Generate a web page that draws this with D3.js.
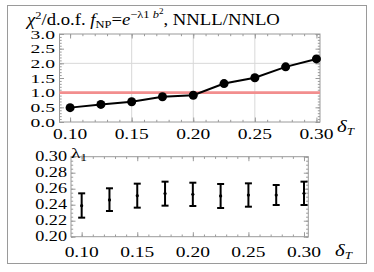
<!DOCTYPE html>
<meta charset="utf-8">
<style>
    body { margin: 0; background: #fff; }
    text { font-family: "Liberation Serif", serif; fill: #000; }
</style>
<svg width="374" height="272"></svg>
<script src="https://cdnjs.cloudflare.com/ajax/libs/d3/7.8.5/d3.min.js"></script>
<script>
    // data
    var deltaT = [0.100, 0.125, 0.150, 0.175, 0.200, 0.225, 0.250, 0.275, 0.300];
    var chi2 = [0.49, 0.60, 0.69, 0.86, 0.91, 1.31, 1.51, 1.88, 2.15];
    var lamCenter = [0.2388, 0.2460, 0.2513, 0.2540, 0.2530, 0.2510, 0.2520, 0.2520, 0.2542];
    var lamLow = [0.2238, 0.2321, 0.2363, 0.2388, 0.2384, 0.2359, 0.2375, 0.2396, 0.2396];
    var lamHigh = [0.2542, 0.2605, 0.2663, 0.2688, 0.2675, 0.2659, 0.2667, 0.2646, 0.2688];
    var xTicks = [0.10, 0.15, 0.20, 0.25, 0.30];
    var chiTicks = [0, 0.5, 1, 1.5, 2, 2.5, 3];
    var lamTicks = [0.20, 0.22, 0.24, 0.26, 0.28, 0.30];
    var refLine = 1.0;

    var svg = d3.select("svg");
    var sx = 1.3; // text in the picture is drawn wide
    var frameCol = "#9a9a9a";

    svg.append("rect").attr("x", 7.5).attr("y", 5.5).attr("width", 359).attr("height", 258)
        .attr("fill", "none").attr("stroke", frameCol);

    function label(g, str, x, y, anchor, size, k) {
        return g.append("text")
            .attr("transform", "translate(" + x + "," + y + ") scale(" + (k || sx) + ",1)")
            .style("font-size", (size || 15) + "px")
            .style("text-anchor", anchor || "middle")
            .text(str);
    }

    // frame with inward ticks on all four sides
    function frame(g, x, y, minorX, minorY) {
        var x0 = x.range()[0], x1 = x.range()[1], y0 = y.range()[0], y1 = y.range()[1];
        var axes = [
            [d3.axisBottom, y0, "x"], [d3.axisTop, y1, "x"],
            [d3.axisLeft, x0, "y"], [d3.axisRight, x1, "y"]
        ];
        axes.forEach(function (a) {
            var sc = a[2] == "x" ? x : y;
            var tv = a[2] == "x" ? xTicks : (y.domain()[1] > 1 ? chiTicks : lamTicks);
            var mv = a[2] == "x" ? minorX : minorY;
            var tr = a[2] == "x" ? "translate(0," + a[1] + ")" : "translate(" + a[1] + ",0)";
            [[mv, -2.2], [tv, -4.5]].forEach(function (s) {
                var ax = g.append("g").attr("transform", tr)
                    .call(a[0](sc).tickValues(s[0]).tickSize(s[1]).tickFormat(""));
                ax.select(".domain").remove();
                ax.selectAll("line").attr("stroke", frameCol);
            });
        });
        g.append("rect").attr("x", x0).attr("y", y1).attr("width", x1 - x0).attr("height", y0 - y1)
            .attr("fill", "none").attr("stroke", frameCol);
    }

    // ---- top panel: chi^2/d.o.f.
    var xA = d3.scaleLinear().domain([0.0914, 0.3029]).range([59.5, 320]);
    var yA = d3.scaleLinear().domain([0, 3]).range([122, 34]);
    var gA = svg.append("g");

    gA.selectAll(".vgrid").data([0.15, 0.20, 0.25]).enter().append("line")
        .attr("x1", function (d) { return xA(d); }).attr("x2", function (d) { return xA(d); })
        .attr("y1", yA(0)).attr("y2", yA(3)).attr("stroke", "#d8d8d8");
    gA.selectAll(".hgrid").data([1, 2]).enter().append("line")
        .attr("x1", xA.range()[0]).attr("x2", xA.range()[1])
        .attr("y1", function (d) { return yA(d); }).attr("y2", function (d) { return yA(d); })
        .attr("stroke", "#d8d8d8");

    frame(gA, xA, yA, d3.range(10, 31).map(function (i) { return i / 100; }),
        d3.range(0, 31).map(function (i) { return i / 10; }));

    gA.append("line").attr("x1", xA.range()[0]).attr("x2", xA.range()[1])
        .attr("y1", yA(refLine)).attr("y2", yA(refLine))
        .attr("stroke", "#f28e8e").attr("stroke-width", 2.6);

    gA.append("path").datum(deltaT)
        .attr("fill", "none").attr("stroke", "#000").attr("stroke-width", 2)
        .attr("d", d3.line().x(function (d) { return xA(d); }).y(function (d, i) { return yA(chi2[i]); }));
    gA.selectAll(".pt").data(deltaT).enter().append("circle")
        .attr("cx", function (d) { return xA(d); }).attr("cy", function (d, i) { return yA(chi2[i]); })
        .attr("r", 4.5).attr("fill", "#000");

    xTicks.forEach(function (t) { label(gA, t.toFixed(2), xA(t), 138.5); });
    chiTicks.forEach(function (t) { label(gA, t.toFixed(1), 55, yA(t) + 4.6, "end", 13.5, 1.45); });

    var dA = label(gA, "δ", 337, 132, "start", 16).style("font-style", "italic");
    dA.append("tspan").attr("dy", 3).style("font-size", "10px").text("T");

    // title
    var title = svg.append("text").attr("transform", "translate(27,24.5)").style("font-size", "16.5px");
    title.append("tspan").style("font-style", "italic").text("χ");
    title.append("tspan").attr("dy", -6).style("font-size", "11px").text("2");
    title.append("tspan").attr("dy", 6).text("/d.o.f. ");
    title.append("tspan").style("font-style", "italic").text("f");
    title.append("tspan").attr("dy", 3).style("font-size", "11px").text("NP");
    title.append("tspan").attr("dy", -3).text("=");
    title.append("tspan").style("font-style", "italic").text("e");
    title.append("tspan").attr("dy", -7).style("font-size", "11px").text("−λ1 ");
    title.append("tspan").style("font-size", "11px").style("font-style", "italic").text("b");
    title.append("tspan").attr("dy", -4).style("font-size", "8px").text("2");
    title.append("tspan").attr("dy", 11).text(", NNLL/NNLO");
    var tw = title.node().getComputedTextLength();
    title.attr("transform", "translate(27,24.5) scale(" + (253 / tw) + ",1)");

    // ---- bottom panel: lambda_1
    var xB = d3.scaleLinear().domain([0.0904, 0.30387]).range([71, 308.3]);
    var yB = d3.scaleLinear().domain([0.20, 0.30]).range([236.7, 156.7]);
    var gB = svg.append("g");

    frame(gB, xB, yB, d3.range(10, 31).map(function (i) { return i / 100; }),
        d3.range(40, 61).map(function (i) { return i / 200; }));

    var bars = gB.selectAll(".bar").data(deltaT).enter().append("g");
    bars.append("line")
        .attr("x1", function (d) { return xB(d); }).attr("x2", function (d) { return xB(d); })
        .attr("y1", function (d, i) { return yB(lamLow[i]); }).attr("y2", function (d, i) { return yB(lamHigh[i]); })
        .attr("stroke", "#000").attr("stroke-width", 2);
    [lamLow, lamHigh].forEach(function (arr) {
        bars.append("line")
            .attr("x1", function (d) { return xB(d) - 3.5; }).attr("x2", function (d) { return xB(d) + 3.5; })
            .attr("y1", function (d, i) { return yB(arr[i]); }).attr("y2", function (d, i) { return yB(arr[i]); })
            .attr("stroke", "#000").attr("stroke-width", 2);
    });
    bars.append("circle")
        .attr("cx", function (d) { return xB(d); }).attr("cy", function (d, i) { return yB(lamCenter[i]); })
        .attr("r", 1.6).attr("fill", "#000");

    xTicks.forEach(function (t) { label(gB, t.toFixed(2), xB(t), 257); });
    lamTicks.forEach(function (t) { label(gB, t.toFixed(2), 67, yB(t) + 4.6, "end", 14); });

    var lam = label(gB, "λ", 71, 158, "start", 15);
    lam.append("tspan").attr("dy", 3).style("font-size", "10px").text("1");

    var dB = label(gB, "δ", 335, 256, "start", 16).style("font-style", "italic");
    dB.append("tspan").attr("dy", 3).style("font-size", "10px").text("T");
</script>
